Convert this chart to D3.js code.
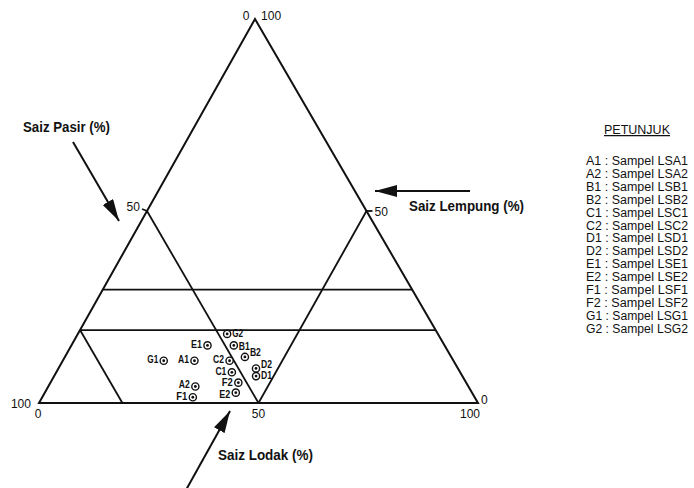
<!DOCTYPE html>
<html>
<head>
<meta charset="utf-8">
<script src="https://cdn.jsdelivr.net/npm/d3@7"></script>
<style>
  body { margin: 0; background: #fff; }
  svg { font-family: "Liberation Sans", Arial, sans-serif; }
  .edge { fill: none; stroke: #111; stroke-width: 2; }
  .zone { fill: none; stroke: #111; stroke-width: 1.8; }
  .tick-label { font-size: 13px; fill: #111; }
  .axis-title { font-size: 14px; font-weight: bold; fill: #111; }
  .pt-label { font-size: 10px; font-weight: bold; fill: #111; }
  .legend { font-size: 12.5px; fill: #111; }
</style>
</head>
<body>
<svg width="694" height="488"></svg>
<script>
// sample ids and their texture (percent)
const sampleIds = ['A1', 'A2', 'B1', 'B2', 'C1', 'C2', 'D1', 'D2', 'E1', 'E2', 'F1', 'F2', 'G1', 'G2'];
const sand = [59, 62.2, 48, 47, 52, 51, 47, 46, 54, 53.8, 64.2, 51.9, 66, 48];
const silt = [30, 33.5, 37, 41, 40, 38, 46, 45, 31, 43.5, 34.3, 42.8, 23, 34];
const clay = [11, 4.3, 15, 12, 8, 11, 7, 9, 15, 2.7, 1.5, 5.3, 11, 18];

// legend text
const legendTitle = 'PETUNJUK';
const legendItems = sampleIds.map(id => `${id} : Sampel LS${id}`);

// zone boundaries as [sand, silt, clay] end points
const zoneLines = [
    [[50, 0, 50], [50, 50, 0]],
    [[0, 50, 50], [50, 50, 0]],
    [[70.5, 0, 29.5], [0, 70.5, 29.5]],
    [[81, 0, 19], [0, 81, 19]],
    [[81, 0, 19], [81, 19, 0]]
];

const svg = d3.select('svg');

// triangle frame in pixels
const base = { l: 39, r: 478, y: 403 };
const apex = { x: 255, y: 19 };

const siltScale = d3.scaleLinear().domain([0, 100]).range([base.l, base.r]);
const clayScale = d3.scaleLinear().domain([0, 100]).range([base.y, apex.y]);
const shearScale = d3.scaleLinear().domain([0, 100]).range([0, apex.x - base.l]);

function tern(s, si, c) {
    const tot = s + si + c;
    const siN = si / tot * 100, cN = c / tot * 100;
    return [siltScale(siN) + shearScale(cN), clayScale(cN)];
}

const line = d3.line();

// outer triangle
svg.append('path')
    .attr('class', 'edge')
    .attr('d', line([tern(100, 0, 0), tern(0, 0, 100), tern(0, 100, 0)]) + 'Z');

svg.selectAll('.zone')
    .data(zoneLines)
    .enter()
    .append('path')
    .attr('class', 'zone')
    .attr('d', d => line(d.map(p => tern(...p))));

// small ticks at the 50 marks
const l50 = tern(50, 0, 50), r50 = tern(0, 50, 50);
svg.append('path').attr('class', 'zone').attr('stroke-width', 1.2)
    .attr('d', line([[l50[0] - 5, l50[1] - 2], [l50[0], l50[1]]]));
svg.append('path').attr('class', 'zone').attr('stroke-width', 1.2)
    .attr('d', line([[r50[0], r50[1]], [r50[0] + 6, r50[1]]]));

// tick labels
const apexPt = tern(0, 0, 100), bl = tern(100, 0, 0), br = tern(0, 100, 0), b50 = tern(50, 50, 0);
const tickLabels = [
    { t: '0', x: apexPt[0] - 9, y: apexPt[1] - 2, a: 'middle' },
    { t: '100', x: apexPt[0] + 6, y: apexPt[1] - 2, a: 'start' },
    { t: '50', x: l50[0] - 7, y: l50[1] - 3, a: 'end' },
    { t: '50', x: r50[0] + 8, y: r50[1] + 2, a: 'start' },
    { t: '100', x: bl[0] - 8, y: bl[1] + 2, a: 'end' },
    { t: '0', x: bl[0] - 1, y: bl[1] + 12, a: 'middle' },
    { t: '50', x: b50[0], y: b50[1] + 12, a: 'middle' },
    { t: '0', x: br[0] + 3, y: br[1] - 2, a: 'start' },
    { t: '100', x: br[0] - 8, y: br[1] + 12, a: 'middle' }
];
svg.selectAll('.tick-label')
    .data(tickLabels)
    .enter()
    .append('text')
    .attr('class', 'tick-label')
    .attr('x', d => d.x)
    .attr('y', d => d.y)
    .attr('text-anchor', d => d.a)
    .attr('dominant-baseline', 'middle')
    .attr('textLength', d => d.t.length * 6.7)
    .attr('lengthAdjust', 'spacingAndGlyphs')
    .text(d => d.t);

// arrows
svg.append('defs').append('marker')
    .attr('id', 'head')
    .attr('viewBox', '0 0 22 12')
    .attr('refX', 22).attr('refY', 6)
    .attr('markerWidth', 22).attr('markerHeight', 12)
    .attr('markerUnits', 'userSpaceOnUse')
    .attr('orient', 'auto')
    .append('path')
    .attr('d', 'M0,0 L22,6 L0,12 Z')
    .attr('fill', '#111');

const arrows = [
    [[73, 142], [119, 221]],
    [[470, 191], [375, 191]],
    [[186, 490], [230, 411]]
];
svg.selectAll('.arrow')
    .data(arrows)
    .enter()
    .append('path')
    .attr('class', 'arrow')
    .attr('d', d => line(d))
    .attr('stroke', '#111')
    .attr('stroke-width', 2)
    .attr('fill', 'none')
    .attr('marker-end', 'url(#head)');

const titles = [
    { t: 'Saiz Pasir (%)', x: 23, y: 128, w: 87 },
    { t: 'Saiz Lempung (%)', x: 409, y: 207, w: 115 },
    { t: 'Saiz Lodak (%)', x: 218, y: 456, w: 95 }
];
svg.selectAll('.axis-title')
    .data(titles)
    .enter()
    .append('text')
    .attr('class', 'axis-title')
    .attr('x', d => d.x)
    .attr('y', d => d.y)
    .attr('dominant-baseline', 'middle')
    .attr('textLength', d => d.w)
    .attr('lengthAdjust', 'spacingAndGlyphs')
    .text(d => d.t);

// sample points
const rightSide = new Set(['G2', 'B1', 'B2', 'D2', 'D1']);
const labelDy = { A2: -1.5, B1: 2, B2: -4, D2: -3, F2: 0.5, E2: 3 };

const samples = sampleIds.map((id, i) => {
    const p = tern(sand[i], silt[i], clay[i]);
    return { id: id, x: p[0], y: p[1] };
});

const ptG = svg.selectAll('.pt')
    .data(samples)
    .enter()
    .append('g')
    .attr('class', 'pt')
    .attr('transform', d => `translate(${d.x}, ${d.y})`);

ptG.append('circle')
    .attr('r', 3.6)
    .attr('fill', '#fff')
    .attr('stroke', '#111')
    .attr('stroke-width', 1.4);
ptG.append('circle')
    .attr('r', 1.4)
    .attr('fill', '#111');
ptG.append('text')
    .attr('class', 'pt-label')
    .attr('x', d => rightSide.has(d.id) ? 5 : -5.5)
    .attr('y', d => labelDy[d.id] || 0)
    .attr('text-anchor', d => rightSide.has(d.id) ? 'start' : 'end')
    .attr('dominant-baseline', 'middle')
    .attr('textLength', 11)
    .attr('lengthAdjust', 'spacingAndGlyphs')
    .text(d => d.id);

// legend
svg.append('text')
    .attr('class', 'legend')
    .attr('x', 637)
    .attr('y', 134)
    .attr('text-anchor', 'middle')
    .attr('text-decoration', 'underline')
    .text(legendTitle);

svg.selectAll('.legend-item')
    .data(legendItems)
    .enter()
    .append('text')
    .attr('class', 'legend legend-item')
    .attr('x', 586)
    .attr('y', (d, i) => 165 + i * 12.9)
    .attr('textLength', 102)
    .attr('lengthAdjust', 'spacingAndGlyphs')
    .text(d => d);
</script>
</body>
</html>
